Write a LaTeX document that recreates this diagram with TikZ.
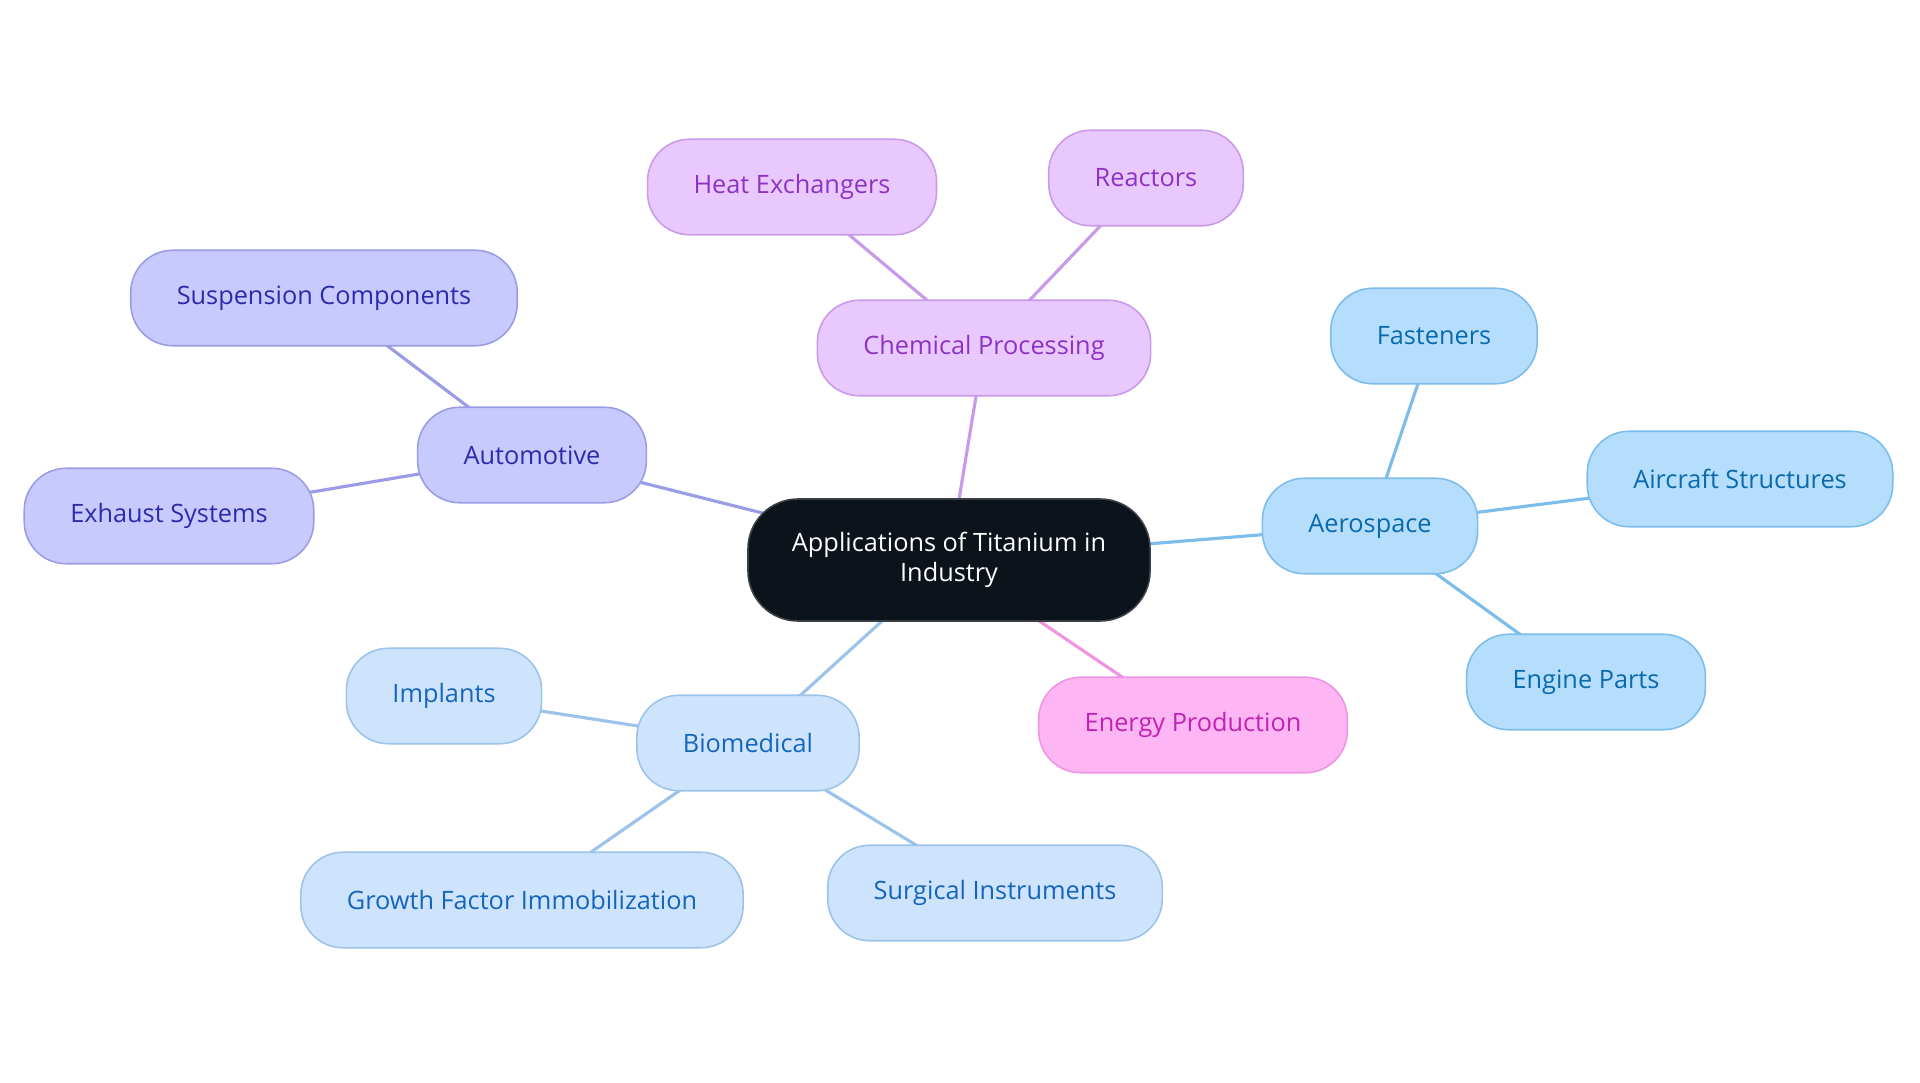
\documentclass[tikz,border=0pt]{standalone}
\usepackage{fontspec}
\setmainfont{Open Sans}
\usepackage{tikz}
\usetikzlibrary{backgrounds}
\definecolor{rootFill}{HTML}{0C131B}
\definecolor{rootLine}{HTML}{3A4048}
\definecolor{chemFill}{HTML}{E9C9FD}
\definecolor{chemLine}{HTML}{C999EA}
\definecolor{chemText}{HTML}{8E32C6}
\definecolor{autoFill}{HTML}{C8CAFD}
\definecolor{autoLine}{HTML}{9A9DE6}
\definecolor{autoText}{HTML}{2B2BAE}
\definecolor{aeroFill}{HTML}{B4DEFC}
\definecolor{aeroLine}{HTML}{7DBDEB}
\definecolor{aeroText}{HTML}{0B69AE}
\definecolor{bioFill}{HTML}{CEE3FC}
\definecolor{bioLine}{HTML}{9DC3EB}
\definecolor{bioText}{HTML}{1565BF}
\definecolor{energyFill}{HTML}{FDB5F3}
\definecolor{energyLine}{HTML}{EF95E2}
\definecolor{energyText}{HTML}{C223B2}

\begin{document}
\begin{tikzpicture}[
  topic/.style={
    draw,
    line width=0.45pt,
    rounded corners=0.42cm,
    minimum height=0.955cm,
    inner xsep=0.46cm,
    font=\fontsize{7.2}{8.6}\selectfont
  },
  root/.style={
    topic,
    fill=rootFill,
    draw=rootLine,
    text=white,
    align=center,
    rounded corners=0.5cm,
    minimum height=1.22cm,
    inner xsep=0.44cm
  },
  chem/.style={topic, fill=chemFill, draw=chemLine, text=chemText},
  auto/.style={topic, fill=autoFill, draw=autoLine, text=autoText},
  aero/.style={topic, fill=aeroFill, draw=aeroLine, text=aeroText},
  bio/.style={topic, fill=bioFill, draw=bioLine, text=bioText},
  energy/.style={topic, fill=energyFill, draw=energyLine, text=energyText},
  link/.style={line width=0.9pt}
]
\useasboundingbox (0,0) rectangle (19.2,-10.83);

\node[root] (app) at (9.49,-5.60) {Applications of Titanium in\\Industry};

% chemical processing
\node[chem] (chem) at (9.84,-3.48) {Chemical Processing};
\node[chem] (heat) at (7.92,-1.87) {Heat Exchangers};
\node[chem] (reac) at (11.46,-1.78) {Reactors};

% automotive
\node[auto] (auto) at (5.32,-4.55) {Automotive};
\node[auto] (susp) at (3.24,-2.98) {Suspension Components};
\node[auto] (exha) at (1.69,-5.16) {Exhaust Systems};

% aerospace
\node[aero] (aero) at (13.70,-5.26) {Aerospace};
\node[aero] (fast) at (14.34,-3.36) {Fasteners};
\node[aero] (airc) at (17.40,-4.79) {Aircraft Structures};
\node[aero] (engi) at (15.86,-6.82) {Engine Parts};

% energy
\node[energy] (ener) at (11.93,-7.25) {Energy Production};

% biomedical
\node[bio] (biom) at (7.48,-7.43) {Biomedical};
\node[bio] (impl) at (4.44,-6.96) {Implants};
\node[bio] (grow) at (5.22,-9.00) {Growth Factor Immobilization};
\node[bio] (surg) at (9.95,-8.93) {Surgical Instruments};

\begin{scope}[on background layer]
\foreach \a/\b/\c in {app/chem/chemLine, chem/heat/chemLine, chem/reac/chemLine,
    app/auto/autoLine, auto/susp/autoLine, auto/exha/autoLine,
    app/aero/aeroLine, aero/fast/aeroLine, aero/airc/aeroLine, aero/engi/aeroLine,
    app/ener/energyLine,
    app/biom/bioLine, biom/impl/bioLine, biom/grow/bioLine, biom/surg/bioLine} {
  \draw[link, draw=\c] (\a.center) -- (\b.center);
}
\end{scope}
\end{tikzpicture}
\end{document}
